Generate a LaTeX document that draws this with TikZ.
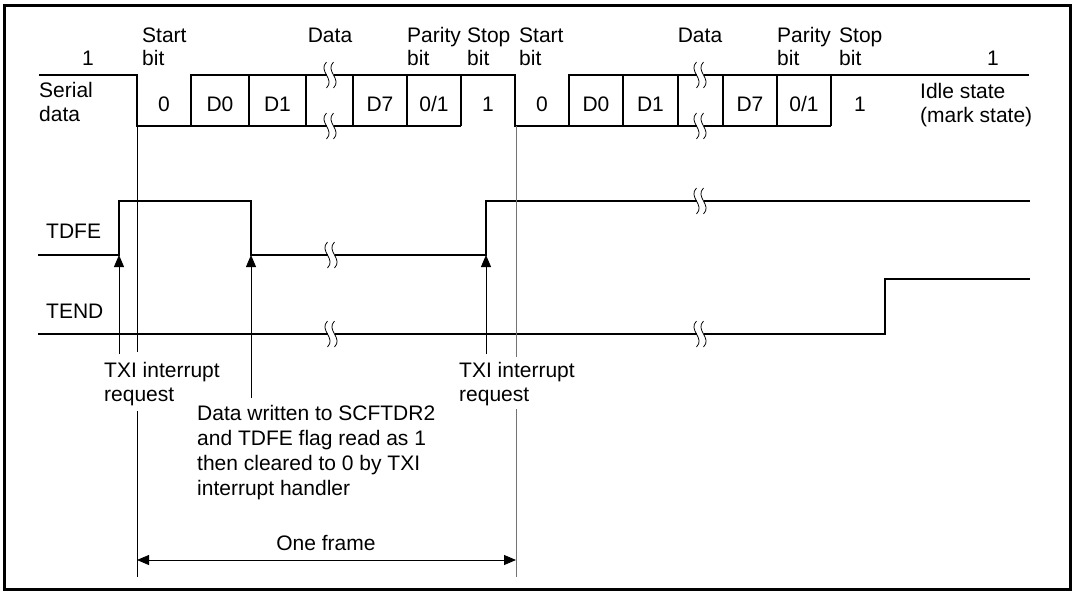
\documentclass[tikz,border=0pt]{standalone}
\usepackage{fontspec}
\setmainfont{Liberation Sans}
\usetikzlibrary{arrows.meta,positioning}

% break mark on a signal line
\newcommand{\cutmark}[2]{%
  \fill[white] (#1-3.5,#2-1.8) rectangle (#1+3.5,#2+1.8);
  \draw[brk] (#1-3.5,#2-13) .. controls (#1-12.5,#2-4) and (#1+5.5,#2+4) .. (#1-3.5,#2+13);
  \draw[brk] (#1+3.5,#2-13) .. controls (#1-5.5,#2-4) and (#1+12.5,#2+4) .. (#1+3.5,#2+13);
}

\begin{document}
\begin{tikzpicture}[x=1pt, y=-1pt,
wave/.style={line width=1.9pt, line join=miter},
guide/.style={line width=0.8pt},
brk/.style={line width=0.8pt},
lbl/.style={inner sep=0pt, font=\fontsize{21}{23.5}\selectfont, align=left},
note/.style={inner sep=0pt, font=\fontsize{21}{24.7}\selectfont, align=left},
arrow/.style={-{Triangle[length=12pt,width=10pt]}, line width=0.8pt}
]
\useasboundingbox (0,0) rectangle (1074,592);
\draw[line width=2.6pt] (4.5,5.5) rectangle (1070.5,589.5);

% Serial data waveform
\draw[wave] (39,75) -| (137,126) -- (461,126);
\draw[wave] (191,126) |- (515,75) |- (831,126);
\draw[wave] (569,126) |- (1029,75);
\foreach \x in {249,306,353,407,461,623,678,723,777,831}
  \draw[wave] (\x,75) -- (\x,126);

% TDFE and TEND
\draw[wave] (38,255) -| (119,201) -| (251,255) -| (486,201) -- (1030,201);
\draw[wave] (38,334) -| (885,279) -- (1030,279);

% Breaks
\cutmark{330}{75}
\cutmark{330}{126}
\cutmark{700}{75}
\cutmark{700}{126}
\cutmark{331}{255}
\cutmark{700}{201}
\cutmark{331}{334}
\cutmark{700}{334}

% Bit labels above the line
\node[lbl, anchor=base] (idle1) at (88,65) {1};
\node[lbl, anchor=base west] (start1) at (142,65.5) {Start\\bit};
\node[lbl, anchor=base] (data1) at (330,42) {Data};
\node[lbl, anchor=base west] (par1) at (407,65.5) {Parity\\bit};
\node[lbl, anchor=base west] (stop1) at (467,65.5) {Stop\\bit};
\node[lbl, anchor=base west] (start2) at (519,65.5) {Start\\bit};
\node[lbl, anchor=base] (data2) at (700,42) {Data};
\node[lbl, anchor=base west] (par2) at (777,65.5) {Parity\\bit};
\node[lbl, anchor=base west] (stop2) at (839,65.5) {Stop\\bit};
\node[lbl, anchor=base] (idle2) at (993,65) {1};

% Cell labels
\node[lbl, anchor=base] (b0a) at (164,111) {0};
\node[lbl, anchor=base] (d0a) at (220,111) {D0};
\node[lbl, anchor=base] (d1a) at (277.5,111) {D1};
\node[lbl, anchor=base] (d7a) at (380,111) {D7};
\node[lbl, anchor=base] (pa) at (434,111) {0/1};
\node[lbl, anchor=base] (sa) at (488,111) {1};
\node[lbl, anchor=base] (b0b) at (542,111) {0};
\node[lbl, anchor=base] (d0b) at (596,111) {D0};
\node[lbl, anchor=base] (d1b) at (650.5,111) {D1};
\node[lbl, anchor=base] (d7b) at (750,111) {D7};
\node[lbl, anchor=base] (pb) at (804,111) {0/1};
\node[lbl, anchor=base] (sb) at (860,111) {1};

% Signal names
\node[lbl, anchor=base west] (serial) at (39,121) {Serial\\data};
\node[lbl, anchor=base west] (idle) at (920,122) {Idle state\\(mark state)};
\node[lbl, anchor=base west] (tdfe) at (46,238) {TDFE};
\node[lbl, anchor=base west] (tend) at (46,318) {TEND};

% Notes
\node[lbl, anchor=base west] (txi1) at (104,401) {TXI interrupt\\request};
\node[lbl, anchor=base west] (txi2) at (459,401) {TXI interrupt\\request};
\node[note, anchor=base west] (wr) at (197,495) {Data written to SCFTDR2\\and TDFE flag read as 1\\then cleared to 0 by TXI\\interrupt handler};
\node[lbl, anchor=base] (frame) at (326,550) {One frame};

% Guide lines
\coordinate (fs) at (137,126);
\coordinate (fe) at (516,126);
\draw[guide] (fs) -- (137,352);
\draw[guide] (137,411) -- (137,577);
\draw[guide, black!55] (fe) -- (516,357);
\draw[guide, black!55] (516,409) -- (516,577);

% Interrupt arrows
\coordinate (e1) at (119,255);
\coordinate (e2) at (251,255);
\coordinate (e3) at (486,255);
\draw[arrow] (119,354) -- (e1);
\draw[arrow] (251,398) -- (e2);
\draw[arrow] (486,354) -- (e3);

% Frame length
\draw[guide, {Triangle[length=12pt,width=10pt]}-{Triangle[length=12pt,width=10pt]}] (137,560) -- (516,560);

\end{tikzpicture}
\end{document}
